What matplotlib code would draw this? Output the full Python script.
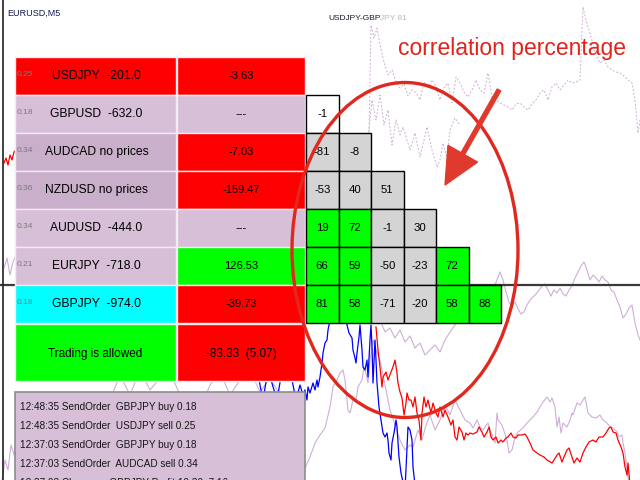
import matplotlib
matplotlib.use('Agg')
import matplotlib.pyplot as plt
from matplotlib.patches import Rectangle, Ellipse, FancyArrow

plt.rcParams['font.family'] = ['Liberation Sans', 'DejaVu Sans']

# ---------------- data ----------------
symbols = ['USDJPY  -201.0', 'GBPUSD  -632.0', 'AUDCAD no prices', 'NZDUSD no prices',
           'AUDUSD  -444.0', 'EURJPY  -718.0', 'GBPJPY  -974.0']
lots = ['0.25', '0.18', '0.34', '0.36', '0.34', '0.21', '0.18']
profits = ['-3.63', '---', '-7.03', '-159.47', '---', '126.53', '-39.73']
left_colors = ['#ff0000', '#d8bfd8', '#c9afc9', '#c9afc9', '#d8bfd8', '#d8bfd8', '#00ffff']
right_colors = ['#ff0000', '#d8bfd8', '#ff0000', '#ff0000', '#d8bfd8', '#00ff00', '#ff0000']
status_text = 'Trading is allowed'
total_text = '-83.33  (5.07)'

corr_vals = [[-1],
             [-81, -8],
             [-53, 40, 51],
             [19, 72, -1, 30],
             [66, 59, -50, -23, 72],
             [81, 58, -71, -20, 58, 88]]
corr_colors = [['white'],
               ['gray', 'gray'],
               ['gray', 'gray', 'gray'],
               ['green', 'green', 'gray', 'gray'],
               ['green', 'green', 'gray', 'gray', 'green'],
               ['green', 'green', 'gray', 'gray', 'green', 'green']]

log_lines = ['12:48:35 SendOrder  GBPJPY buy 0.18',
             '12:48:35 SendOrder  USDJPY sell 0.25',
             '12:37:03 SendOrder  GBPJPY buy 0.18',
             '12:37:03 SendOrder  AUDCAD sell 0.34',
             '12:37:03 Close        GBPJPY Profit 19.30  7.16']

# background price lines (bar position, price level in screen rows)
red_x = [376, 378, 380, 382, 383, 386, 388, 391, 393, 395, 397, 398, 400, 402, 404,
         406, 407, 409, 411, 413, 415, 417, 419, 421, 422, 424, 426, 428, 431, 433,
         436, 438, 440, 443, 445, 448, 451, 453, 455, 457, 459, 462, 464, 466, 468,
         470, 473, 477, 479, 482, 484, 487, 489, 491, 493, 496, 498, 501, 503, 506,
         508, 511, 513, 516, 518, 522, 525, 527, 530, 533, 537, 540, 544, 547, 552,
         554, 557, 559, 562, 564, 567, 569, 572, 574, 577, 580, 583, 586, 589, 593,
         596, 599, 603, 606, 609, 611, 613, 616, 618, 621, 623, 624, 625, 627, 628, 630]
red_y = [327, 350, 367, 387, 377, 372, 380, 372, 367, 360, 373, 383, 392, 398, 415,
         403, 393, 400, 400, 407, 397, 413, 420, 440, 413, 397, 407, 400, 413, 403,
         413, 417, 407, 417, 410, 417, 425, 420, 437, 440, 427, 432, 440, 433, 435,
         433, 434, 432, 427, 432, 437, 432, 427, 437, 440, 437, 443, 440, 442, 438,
         437, 433, 437, 438, 435, 435, 434, 437, 443, 450, 453, 455, 457, 460, 463,
         460, 455, 453, 462, 457, 450, 448, 457, 463, 458, 462, 453, 447, 442, 440,
         442, 437, 437, 433, 428, 427, 432, 433, 440, 447, 453, 460, 467, 475, 463, 485]

blue_x = [255, 263, 268, 277, 283, 290, 296, 300, 303, 305, 307, 308, 310, 313, 315,
          317, 318, 320, 322, 323, 325, 327, 328, 329, 333, 338, 343, 347, 349, 352,
          353, 355, 356, 357, 359, 360, 362, 363, 365, 367, 368, 370, 371, 372, 373,
          375, 376, 377, 379, 381, 383, 385, 387, 388, 389, 391, 392, 394, 396, 397,
          399, 401, 403, 405, 408, 410, 412, 413, 415]
blue_y = [360, 400, 370, 400, 365, 370, 400, 385, 395, 390, 400, 387, 393, 383, 390,
          380, 387, 377, 363, 353, 343, 340, 330, 325, 310, 295, 305, 325, 333, 338,
          350, 358, 363, 353, 337, 325, 350, 367, 370, 360, 377, 340, 325, 347, 383,
          340, 360, 383, 407, 420, 433, 437, 433, 440, 453, 460, 443, 433, 420, 427,
          457, 473, 482, 490, 427, 430, 440, 467, 485]

plum_low_x = [300, 305, 310, 315, 320, 325, 330, 333, 337, 340, 343, 345, 348, 350, 353,
              356, 358, 362, 364, 366, 368, 370, 373, 376, 380, 385, 390, 395, 400, 405,
              410, 413, 418, 422, 426, 430, 435, 440, 445, 450, 455, 460, 465, 470, 473,
              477, 480, 483, 488, 492, 495, 497, 498, 502, 507, 509, 512, 515, 518, 523,
              527, 530, 533, 537, 540, 543, 547, 550, 552, 555, 557, 559, 561, 563, 567,
              570, 572, 573, 577, 580, 585, 588, 592, 596, 600, 603, 607, 610, 613, 617,
              619, 622, 623, 625, 627, 628, 630]
plum_low_y = [480, 468, 457, 443, 435, 428, 407, 387, 380, 373, 370, 380, 410, 413, 400,
              400, 387, 380, 367, 373, 383, 360, 340, 350, 360, 385, 410, 425, 440, 450,
              445, 447, 430, 440, 425, 415, 430, 420, 405, 415, 400, 410, 420, 423, 428,
              420, 427, 430, 423, 435, 443, 413, 420, 425, 440, 453, 450, 437, 432, 428,
              423, 420, 417, 412, 407, 402, 397, 402, 398, 407, 427, 417, 433, 423, 427,
              420, 413, 415, 403, 405, 397, 413, 417, 418, 415, 420, 423, 427, 428, 432,
              437, 435, 443, 453, 470, 477, 490]

plum_mid_x = [300, 310, 320, 330, 340, 350, 360, 370, 380, 385, 390, 395, 400, 405, 410,
              415, 420, 425, 430, 435, 440, 445, 450, 455, 460, 465, 470, 475, 480, 485,
              490, 495, 500, 503, 506, 509, 512, 515, 518, 521, 524, 527, 530, 533, 536,
              539, 542, 545, 548, 551, 554, 557, 560, 563, 566, 569, 572, 575, 578, 581,
              584, 587, 590, 593, 596, 599, 602, 605, 608, 611, 614, 617, 620, 623, 626,
              629, 632, 635, 638, 640]
plum_mid_y = [300, 290, 305, 295, 310, 300, 315, 305, 320, 332, 328, 338, 330, 342, 336,
              348, 343, 355, 350, 345, 352, 340, 332, 325, 312, 305, 300, 305, 295, 300,
              290, 285, 272, 280, 292, 302, 306, 302, 309, 314, 312, 305, 300, 297, 294,
              290, 286, 284, 290, 296, 290, 293, 288, 294, 296, 290, 286, 278, 272, 266,
              262, 270, 280, 275, 278, 282, 276, 280, 282, 290, 292, 300, 307, 318, 314,
              308, 305, 323, 335, 340]

plum_left_x = [110, 120, 130, 140, 150, 160, 170, 180, 190, 200, 210, 220, 230, 240, 250,
               260, 270, 280, 290, 300]
plum_left_y = [400, 375, 395, 370, 390, 378, 372, 395, 400, 410, 385, 372, 395, 380, 370,
               392, 378, 395, 440, 480]

dash_hi_x = [369, 371, 374, 377, 380, 384, 388, 392, 396, 400, 404, 408, 412, 416, 420,
             424, 428, 432, 436, 440, 444, 448, 452, 456, 460, 464, 468, 472, 476, 480,
             484, 488, 492, 496, 500, 504, 508, 512, 516, 520, 524, 528, 532, 536, 540,
             544, 548, 552, 556, 560, 564, 568, 572, 576, 580, 583, 586, 589, 592, 596,
             600, 604, 608, 612, 616, 620, 624, 628, 632, 635, 638, 640]
dash_hi_y = [135, 25, 38, 28, 45, 62, 75, 70, 82, 88, 84, 96, 90, 93, 100,
             82, 87, 80, 86, 100, 88, 83, 103, 77, 83, 92, 97, 90, 80, 90,
             93, 73, 97, 100, 103, 105, 107, 110, 104, 103, 107, 110, 104, 100, 93,
             90, 100, 87, 83, 90, 85, 80, 83, 82, 80, 7, 20, 30, 40, 55,
             63, 60, 67, 70, 72, 73, 76, 80, 83, 100, 133, 120]
dash_lo_x = [368, 372, 376, 380, 384, 388, 392, 396, 400, 403, 407, 410, 415, 420, 424,
             427, 432, 437, 440, 443, 447, 450, 455, 460]
dash_lo_y = [140, 100, 120, 95, 125, 110, 145, 120, 135, 127, 140, 150, 133, 157, 140,
             127, 150, 167, 160, 143, 157, 130, 118, 125]

edge_red_x = [4, 6, 8, 10, 12, 14, 16]
edge_red_y = [163, 158, 165, 155, 160, 152, 150]
edge_plum_x = [4, 7, 10, 13, 16, 2, 5, 8, 11, 14, 17]
edge_plum_y = [268, 258, 275, 262, 255, 480, 460, 470, 445, 455, 440]

# ---------------- figure ----------------
fig = plt.figure(figsize=(6.4, 4.8), dpi=100)
ax = fig.add_axes([0, 0, 1, 1])
ax.set_xlim(0, 640)
ax.set_ylim(480, 0)
ax.axis('off')

plum = '#cfaed6'
ax.plot(dash_hi_x, dash_hi_y, color=plum, lw=0.7, ls=(0, (2, 1.8)), zorder=1)
ax.plot(dash_lo_x, dash_lo_y, color=plum, lw=0.7, ls=(0, (2, 1.8)), zorder=1)
ax.plot(plum_mid_x, plum_mid_y, color=plum, lw=0.8, zorder=1)
ax.plot(plum_low_x, plum_low_y, color=plum, lw=0.8, zorder=1)
ax.plot(plum_left_x, plum_left_y, color=plum, lw=0.8, zorder=1)
ax.plot(edge_plum_x[:5], edge_plum_y[:5], color=plum, lw=0.8, zorder=1)
ax.plot(edge_plum_x[5:], edge_plum_y[5:], color=plum, lw=0.8, zorder=1)
ax.plot(red_x, red_y, color='#ff0000', lw=0.9, zorder=1.2)
ax.plot(edge_red_x, edge_red_y, color='#ff0000', lw=0.9, zorder=1.2)
ax.plot(blue_x, blue_y, color='#0000ff', lw=0.9, zorder=1.2)

ax.axhline(285, color='#3a3a3a', lw=1.6, zorder=1.5)
ax.axvline(3, color='#202020', lw=1.2, zorder=1.5)

ax.text(7, 13, 'EURUSD,M5', fontsize=6.5, color='#141a4a', va='center', ha='left')
pair_lbl = ax.text(328, 19, 'USDJPY-GBP', fontsize=6, color='#1a1a2a',
                   va='center', ha='left')
ax.annotate('JPY 81', xy=(1, 0.5), xycoords=pair_lbl, fontsize=6, color='#b8b8b8',
            va='center', ha='left')

# order table
top, rh = 57, 38
lx0, lx1 = 15, 176
rx0, rx1 = 177, 305
for i in range(len(symbols)):
    y = top + i * rh
    ax.add_patch(Rectangle((lx0, y), lx1 - lx0, rh, facecolor=left_colors[i],
                           edgecolor='#f4eaf4', lw=1, zorder=3))
    ax.add_patch(Rectangle((rx0, y), rx1 - rx0, rh, facecolor=right_colors[i],
                           edgecolor='#f4eaf4', lw=1, zorder=3))
    ax.text(lx0 + 2, y + rh / 2 - 1, lots[i], fontsize=6, color='#7a7a7a',
            va='center', ha='left', zorder=4)
    ax.text((lx0 + lx1) / 2 + 1, y + rh / 2, symbols[i], fontsize=8.7, color='black',
            va='center', ha='center', zorder=4)
    ax.text((rx0 + rx1) / 2, y + rh / 2, profits[i], fontsize=8, color='black',
            va='center', ha='center', zorder=4)

ys = top + len(symbols) * rh + 1
sh = 57
ax.add_patch(Rectangle((lx0, ys), lx1 - lx0, sh, facecolor='#00ff00',
                       edgecolor='#f0f0f0', lw=1, zorder=3))
ax.add_patch(Rectangle((rx0, ys), rx1 - rx0, sh, facecolor='#ff0000',
                       edgecolor='#f0f0f0', lw=1, zorder=3))
ax.text((lx0 + lx1) / 2, ys + sh / 2 + 1, status_text, fontsize=8.5, va='center',
        ha='center', zorder=4)
ax.text((rx0 + rx1) / 2, ys + sh / 2 + 1, total_text, fontsize=8.5, va='center',
        ha='center', zorder=4)

# log box
ax.add_patch(Rectangle((lx0, 392), rx1 - lx0, 100, facecolor='#d8bfd8',
                       edgecolor='#8c8c8c', lw=1.2, zorder=3))
for i, line in enumerate(log_lines):
    ax.text(20, 407 + 19 * i, line, fontsize=7.2, color='#151515', va='center',
            ha='left', zorder=4)

# correlation triangle
cell_fill = {'white': '#ffffff', 'gray': '#d4d4d4', 'green': '#00ff00'}
gx0, cw = 306, 32.5
for r, row in enumerate(corr_vals):
    y = top + (r + 1) * rh
    for c, v in enumerate(row):
        x = gx0 + c * cw
        ax.add_patch(Rectangle((x, y), cw, rh, facecolor=cell_fill[corr_colors[r][c]],
                               edgecolor='black', lw=1, zorder=3))
        ax.text(x + cw / 2, y + rh / 2, str(v), fontsize=8.2, color='black',
                va='center', ha='center', zorder=4)

# annotation
red_ink = '#e0281e'
ax.add_patch(Ellipse((405, 250), 226, 335, fill=False, edgecolor=red_ink, lw=2.4, zorder=6))
ax.add_patch(FancyArrow(499, 90, -54, 95, width=4, head_width=34, head_length=36,
                        length_includes_head=True, color='#e03a2e', zorder=6))
ax.text(398, 55, 'correlation percentage', fontsize=16.5, color='#e0241c',
        va='baseline', ha='left', zorder=6)

fig.savefig('out.png', dpi=100)
